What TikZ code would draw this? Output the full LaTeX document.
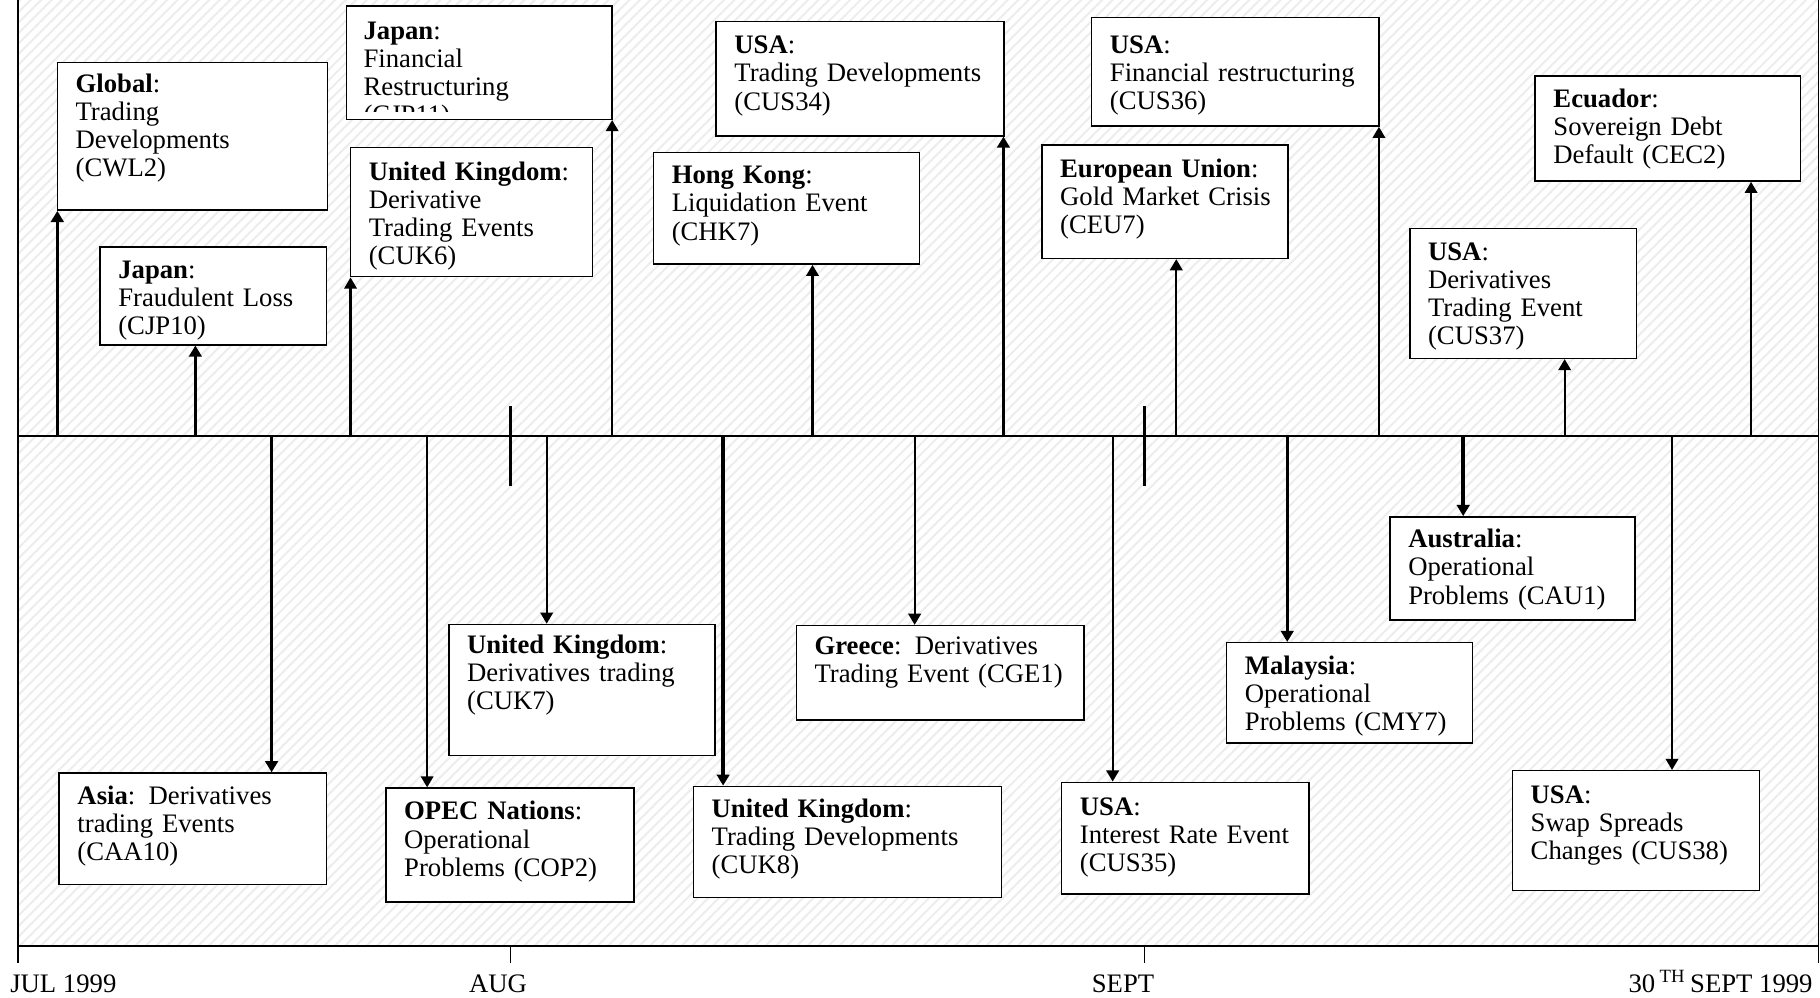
\documentclass[tikz,border=0pt]{standalone}
\usepackage{fontspec}
\setmainfont{Liberation Serif}
\usetikzlibrary{arrows.meta,calc,fit,patterns.meta}

\newcommand\evfont{\fontsize{11.5pt}{12.1pt}\selectfont}

% event box: [baseline offset]{name}{left}{top}{right}{bottom}{text}
\newcommand\evbox[7][27.5]{%
  \node[eventbox, fit={(#3,#4)(#5,#6)}] (#2) {};
  \node[eventtext] (#2-text) at ($(#2.north west)+(16,#1-17)$) {\strut #7};
}

\tikzset{
  eventbox/.style={draw, fill=white, line width=0.65pt, inner sep=0pt},
  eventtext/.style={anchor=north west, inner sep=0pt, text width=160pt,
                    align=left, font=\evfont},
  evarrow/.style={-{Triangle[length=4.8pt,width=5.4pt]}, line width=0.9pt},
  evarrowthick/.style={evarrow, line width=1.5pt},
  frameline/.style={line width=0.65pt},
  monthmark/.style={line width=1.5pt},
  datelabel/.style={inner sep=0pt, font=\evfont},
}

\begin{document}
\begin{tikzpicture}[x=0.5pt,y=-0.5pt]
\useasboundingbox (0,0) rectangle (1568,859);

% hatched panel
\fill[pattern={Lines[angle=45,distance=3.2pt,line width=0.9pt]},
      pattern color=black!7] (15.7,0) rectangle (1566.5,815);

% frame and month ticks below it
\coordinate (fTL) at (15.7,0);
\coordinate (fBL) at (15.7,830);
\coordinate (fTR) at (1566.5,0);
\coordinate (fBR) at (1566.5,830);
\coordinate (bL) at (15.7,815);
\coordinate (bR) at (1566.5,815);
\draw[frameline] (fTL) -- (fBL);
\draw[frameline] (fTR) -- (fBR);
\draw[frameline] (bL) -- (bR);
\coordinate (augT) at (440,815);
\coordinate (augB) at (440,830);
\coordinate (sepT) at (986,815);
\coordinate (sepB) at (986,830);
\draw[frameline] (augT) -- (augB);
\draw[frameline] (sepT) -- (sepB);

% time axis
\coordinate (axL) at (15.7,375.6);
\coordinate (axR) at (1566.5,375.6);
\draw[line width=0.75pt] (axL) -- (axR);

% month boundaries on the axis
\coordinate (m1a) at (440,350);
\coordinate (m1b) at (440,419);
\coordinate (m2a) at (986,350);
\coordinate (m2b) at (986,419);
\draw[monthmark] (m1a) -- (m1b);
\draw[monthmark] (m2a) -- (m2b);

% events above the axis
\evbox[26]{cwl2}{49.4}{53.7}{282}{181}{\textbf{Global}:\\Trading\\Developments\\(CWL2)}
\evbox[27.5]{cjp10}{86.2}{213}{281.4}{297}{\textbf{Japan}:\\Fraudulent Loss\\(CJP10)}
\node[eventbox, fit={(298.5,5.2)(527.4,102.8)}] (cjp11) {};
\begin{scope}
  % the text frame cuts the last line short of the border
  \clip ($(cjp11.north west)+(1,1)$) rectangle ($(cjp11.south east)+(-1,-7)$);
  \node[eventtext] (cjp11-text) at ($(cjp11.north west)+(15,28.8-17)$)
    {\strut\textbf{Japan}:\\Financial\\Restructuring\\(CJP11)};
\end{scope}
\evbox[28.8]{cuk6}{302}{127.2}{510.4}{238.4}{\textbf{United Kingdom}:\\Derivative\\Trading Events\\(CUK6)}
\evbox[28]{cus34}{617}{18.7}{865}{117}{\textbf{USA}:\\Trading Developments\\(CUS34)}
\evbox[27.2]{chk7}{563}{131.5}{792}{227.5}{\textbf{Hong Kong}:\\Liquidation Event\\(CHK7)}
\evbox[31]{cus36}{940.5}{15}{1188}{108.6}{\textbf{USA}:\\Financial restructuring\\(CUS36)}
\evbox[28]{ceu7}{897.6}{125}{1109.6}{222.6}{\textbf{European Union}:\\Gold Market Crisis\\(CEU7)}
\evbox[27.5]{cus37}{1214.6}{197}{1410}{308.7}{\textbf{USA}:\\Derivatives\\Trading Event\\(CUS37)}
\evbox[27]{cec2}{1322.6}{65.5}{1551}{156}{\textbf{Ecuador}:\\Sovereign Debt\\Default (CEC2)}

% events below the axis
\evbox[27.5]{caa10}{51}{666}{281.4}{762.2}{\textbf{Asia}: Derivatives\\trading Events\\(CAA10)}
\evbox[27.7]{cop2}{332.5}{679}{546}{777}{\textbf{OPEC Nations}:\\Operational\\Problems (COP2)}
\evbox[25.5]{cuk7}{386.7}{538}{616}{651}{\textbf{United Kingdom}:\\Derivatives trading\\(CUK7)}
\evbox[26.7]{cuk8}{597.4}{677.5}{862.8}{773}{\textbf{United Kingdom}:\\Trading Developments\\(CUK8)}
\evbox[25]{cge1}{686}{539}{934}{620.4}{\textbf{Greece}: Derivatives\\Trading Event (CGE1)}
\evbox[28.5]{cus35}{914.6}{674}{1127.7}{770}{\textbf{USA}:\\Interest Rate Event\\(CUS35)}
\evbox[27.4]{cmy7}{1056.8}{553.7}{1268.4}{640}{\textbf{Malaysia}:\\Operational\\Problems (CMY7)}
\evbox[27]{cau1}{1197.5}{445.3}{1408.8}{534}{\textbf{Australia}:\\Operational\\Problems (CAU1)}
\evbox[28.5]{cus38}{1303}{664}{1516}{767}{\textbf{USA}:\\Swap Spreads\\Changes (CUS38)}

% connectors: axis points to event boxes
\foreach \nm/\xx/\st in {cwl2/49.4/evarrowthick, cjp10/168.3/evarrowthick,
    cuk6/302/evarrow, cjp11/527.4/evarrow, chk7/700/evarrow,
    cus34/864.5/evarrowthick, ceu7/1013.4/evarrow, cus36/1188/evarrow,
    cus37/1348/evarrow, cec2/1508.6/evarrow}{
  \coordinate (ax-\nm) at (\xx,375.6);
  \draw[\st] (ax-\nm) -- (ax-\nm |- \nm.south);
}
\foreach \nm/\xx/\st in {caa10/234/evarrowthick, cop2/368/evarrow,
    cuk7/471/evarrow, cuk8/623/evarrowthick, cge1/788/evarrow,
    cus35/958.6/evarrow, cmy7/1109/evarrowthick, cau1/1260.6/evarrowthick,
    cus38/1440.5/evarrow}{
  \coordinate (ax-\nm) at (\xx,375.6);
  \draw[\st] (ax-\nm) -- (ax-\nm |- \nm.north);
}

% dates
\node[datelabel, anchor=base west] (jul) at (8.5,855) {JUL 1999};
\node[datelabel, anchor=base] (aug) at (429,855) {AUG};
\node[datelabel, anchor=base] (sept) at (967.5,855) {SEPT};
\node[datelabel, anchor=base east] (end) at (1562,855) {30\,\textsuperscript{TH}\,SEPT 1999};
\end{tikzpicture}
\end{document}
